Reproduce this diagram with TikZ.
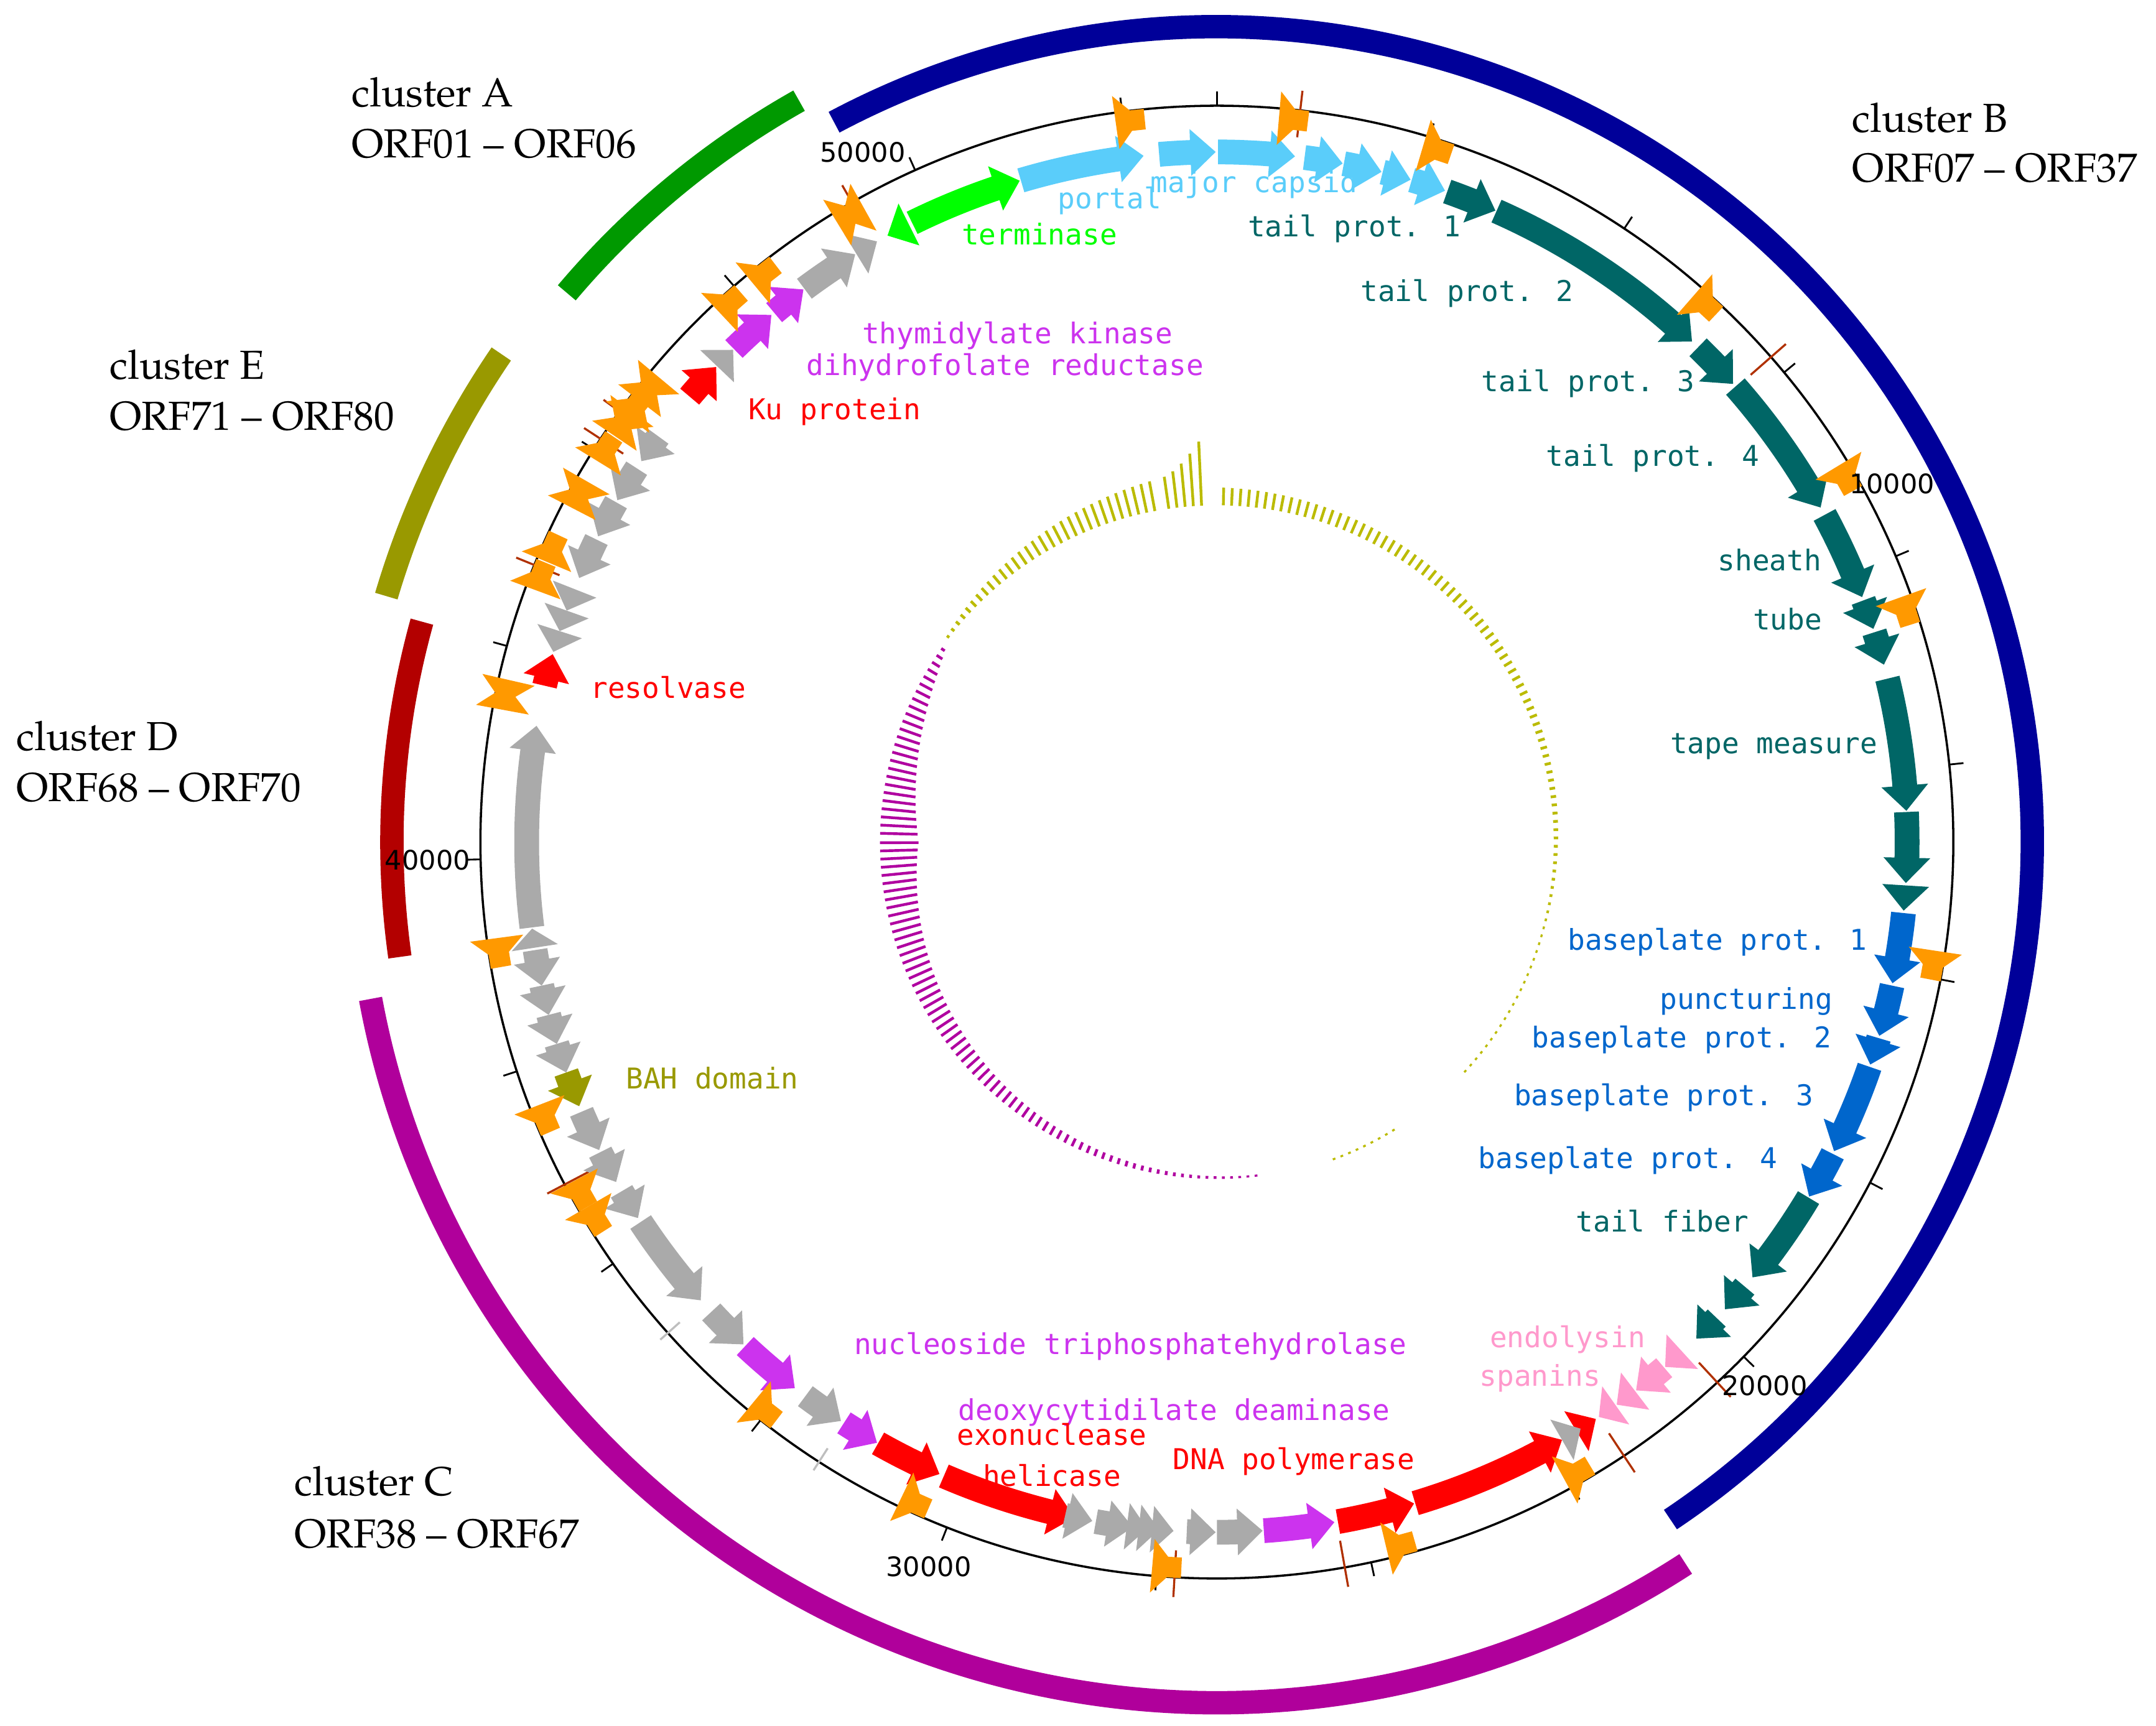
\documentclass[tikz,border=0pt]{standalone}
\usepackage{fontspec}
\newfontfamily\monof{DejaVu Sans Mono}
\newfontfamily\sansf{DejaVu Sans}
\definecolor{lblue}{RGB}{90,205,250}
\definecolor{tgreen}{RGB}{0,255,0}
\definecolor{tealc}{RGB}{0,102,102}
\definecolor{bblue}{RGB}{0,102,204}
\definecolor{pinkc}{RGB}{255,153,204}
\definecolor{redc}{RGB}{255,0,0}
\definecolor{magc}{RGB}{204,51,238}
\definecolor{grayc}{RGB}{170,170,170}
\definecolor{olivec}{RGB}{153,153,0}
\definecolor{orangec}{RGB}{255,153,0}
\definecolor{navyc}{RGB}{0,0,153}
\definecolor{agreen}{RGB}{0,153,0}
\definecolor{dredc}{RGB}{179,0,0}
\definecolor{amag}{RGB}{176,0,155}
\definecolor{holive}{RGB}{187,187,0}
\definecolor{hmag}{RGB}{176,0,160}
\definecolor{brownc}{RGB}{176,48,0}
\definecolor{lgrayc}{RGB}{190,190,190}
% gene arrow: colour, start angle (clockwise from top), tip angle
\newcommand{\gene}[3]{%
 \pgfmathsetmacro{\gnA}{90-(#2)}%
 \pgfmathsetmacro{\gnB}{90-(#3)}%
 \pgfmathsetmacro{\gnD}{2*((#3)>(#2))-1}%
 \pgfmathsetmacro{\gnL}{min(2.1,abs((#3)-(#2)))}%
 \pgfmathsetmacro{\gnH}{\gnB+\gnD*\gnL}%
 \fill[#1] (\gnA:493) arc[start angle=\gnA,end angle=\gnH,radius=493] -- (\gnH:485) -- (\gnB:502) -- (\gnH:519) -- (\gnH:511) arc[start angle=\gnH,end angle=\gnA,radius=511] -- cycle;}
% orange symbol: angle, direction (+1 clockwise, -1 counterclockwise)
\newcommand{\orn}[2]{%
 \pgfmathsetmacro{\orA}{90-(#1)+(#2)*1.2}%
 \pgfmathsetmacro{\orB}{90-(#1)}%
 \pgfmathsetmacro{\orC}{90-(#1)-(#2)*1.1}%
 \fill[orangec] (\orA:509) -- (\orA:548) -- (\orB:536) -- (\orC:536) -- (\orC:521) -- (\orB:521) -- cycle;}
\begin{document}
\begin{tikzpicture}[x=1pt,y=1pt,
  ho/.style={holive,line width=2},
  hm/.style={hmag,line width=2},
  lbl/.style={font=\fontsize{20.85}{24}\selectfont\monof,anchor=base,inner sep=0},
  tlab/.style={font=\fontsize{19.5}{22}\selectfont\sansf,anchor=base,inner sep=0},
  clab/.style={font=\fontsize{29.5}{35}\usefont{OT1}{ppl}{m}{n},anchor=base west,inner sep=0},
  clus/.style={line width=17}]
\useasboundingbox (-885,-642.5) rectangle (683,612.5);
\fill[white] (-885,-642.5) rectangle (683,612.5);

% inner skew histogram
\foreach \hT in {1.1,2.5,...,133.5}{\pgfmathsetmacro{\hL}{max(1.5,13-0.11*\hT)}\draw[ho] ({90-\hT}:245) -- ({90-\hT}:{245+\hL});}
\foreach \hT in {148.5,149.9,...,160.5}{\draw[ho] ({90-\hT}:245) -- ({90-\hT}:246.5);}
\foreach \hT in {173.3,174.7,...,270.1}{\pgfmathsetmacro{\hL}{1.5+26.5*((\hT-173)/97)^1.6}\draw[hm] ({90-\hT}:245) -- ({90-\hT}:{245-\hL});}
\foreach \hT in {271.5,272.9,...,305.5}{\pgfmathsetmacro{\hL}{1+27*((306-\hT)/36)^0.7}\draw[hm] ({90-\hT}:245) -- ({90-\hT}:{245-\hL});}
\foreach \hT in {307.4,308.8,...,350.5}{\pgfmathsetmacro{\hL}{1.5+(\hT-306)*0.47}\draw[ho] ({90-\hT}:245) -- ({90-\hT}:{245+\hL});}
\foreach \hT in {351.8,353.2,...,358.5}{\pgfmathsetmacro{\hL}{22+(\hT-350)^2*0.45}\draw[ho] ({90-\hT}:245) -- ({90-\hT}:{245+\hL});}

% genome circle and ticks
\draw[line width=1.6] (0,0) circle[radius=535.6];
\foreach \k in {0,...,21}{\pgfmathsetmacro{\tkA}{90-\k*16.791}\draw[line width=1.3] (\tkA:535.6) -- (\tkA:546);}
\foreach \a in {6.5,330.3,48.8,137.2,146.45,170.0,183.3,242.3,292.1,303.2,305.8}{\draw[brownc,line width=1.5] ({90-\a}:516) -- ({90-\a}:550);}
\foreach \a in {212.7,228.2}{\draw[lgrayc,line width=1.5] ({90-\a}:524) -- ({90-\a}:543);}

% genes
\foreach \a/\b in {343.5/353.9,355.2/359.9,0.1/6.5,7.3/10.5,10.6/13.8,13.9/16.3,16.4/19.3}{\gene{lblue}{\a}{\b}}
\foreach \a/\b in {19.5/23.8,23.9/43.5,44.2/48.4,48.7/61.0,61.7/69.2,69.5/72.0,72.3/75.1,76.3/87.4,87.5/93.4,93.6/95.7,121.0/129.1,130.1/132.6,133.6/136.0}{\gene{tealc}{\a}{\b}}
\foreach \a/\b in {95.9/101.8,102.0/106.3,106.5/108.8,109.0/116.6,116.85/120.9}{\gene{bblue}{\a}{\b}}
\foreach \a/\b in {137.6/139.5,139.6/142.6,142.7/144.6,144.7/146.4}{\gene{pinkc}{\a}{\b}}
\foreach \a/\b in {148.6/146.7,163.3/150.0,169.9/163.4,203.3/191.9,209.4/203.7,283.1/285.8,310.2/313.5}{\gene{redc}{\a}{\b}}
\foreach \a/\b in {176.1/170.2,212.7/209.5,223.1/217.7,315.6/319.8,320.1/323.2}{\gene{magc}{\a}{\b}}
\foreach \a/\b in {150.0/148.2,180.0/176.2,182.5/180.1,190.1/187.0,187.5/185.8,186.5/184.8,185.4/183.6,192.7/190.4,216.6/213.0,227.1/223.3,236.6/228.4,239.6/237.0,243.3/240.5,247.0/243.5,253.0/250.5,255.5/253.0,258.0/255.5,261.0/258.0,261.2/262.8,262.9/279.7,291.5/289.6,289.6/287.8,287.8/286.0,296.0/292.5,299.5/296.3,302.8/299.7,306.0/303.5,313.6/315.5,323.3/328.4,328.5/330.5}{\gene{grayc}{\a}{\b}}
\gene{olivec}{250.5}{247.5}
\foreach \a/\b in {333.5/331.5,333.8/343.4}{\gene{tgreen}{\a}{\b}}

% orange symbols
\foreach \a/\d in {353.2/1,6.1/1,17.7/1,42.3/1,60.0/1,71.5/1,99.8/1,150.2/-1,165.3/-1,183.9/-1,204.5/-1,218.4/-1,238.7/-1,241.0/-1,247.6/-1,261.2/-1,281.7/1,281.7/-1,291.5/1,293.9/1,298.6/1,298.6/-1,302.8/1,305.2/1,305.2/-1,307.0/1,308.6/1,308.6/-1,318.0/1,321.5/1,329.7/1,329.7/-1}{\orn{\a}{\d}}

% cluster arcs
\draw[clus,navyc] (-242:593) arc[start angle=-242,end angle=-416.2,radius=593];
\draw[clus,amag] (-57:626) arc[start angle=-57,end angle=-169.5,radius=626];
\draw[clus,dredc] (-172:600) arc[start angle=-172,end angle=-195.5,radius=600];
\draw[clus,olivec] (-196.5:630) arc[start angle=-196.5,end angle=-214.3,radius=630];
\draw[clus,agreen] (-220.2:619) arc[start angle=-220.2,end angle=-240.6,radius=619];

% tick labels
\node[tlab] (t50) at (-257.5,494.5) {50000};
\node[tlab] (t10) at (491,253.5) {10000};
\node[tlab] (t20) at (398.5,-402.5) {20000};
\node[tlab] (t30) at (-209.6,-534) {30000};
\node[tlab] (t40) at (-574,-20) {40000};

% gene labels
\node[lbl,lblue] (lportal) at (-78,460.5) {portal};
\node[lbl,lblue] (lcapsid) at (27,472.5) {major capsid};
\node[lbl,tgreen] (lterm) at (-129,434.5) {terminase};
\node[lbl,tealc] (ltp1) at (100,440.5) {tail prot. 1};
\node[lbl,tealc] (ltp2) at (182,393.5) {tail prot. 2};
\node[lbl,tealc] (ltp3) at (270,327.5) {tail prot. 3};
\node[lbl,tealc] (ltp4) at (317,273.5) {tail prot. 4};
\node[lbl,tealc] (lsheath) at (402,197.5) {sheath};
\node[lbl,tealc] (ltube) at (415,154.5) {tube};
\node[lbl,tealc] (ltape) at (405,64.5) {tape measure};
\node[lbl,bblue] (lbp1) at (364,-78.5) {baseplate prot. 1};
\node[lbl,bblue] (lpunct) at (385,-121.5) {puncturing};
\node[lbl,bblue] (lbp2) at (338,-149.5) {baseplate prot. 2};
\node[lbl,bblue] (lbp3) at (325,-191.5) {baseplate prot. 3};
\node[lbl,bblue] (lbp4) at (299,-237.5) {baseplate prot. 4};
\node[lbl,tealc] (lfiber) at (324,-283.5) {tail fiber};
\node[lbl,pinkc] (lendo) at (255,-367.5) {endolysin};
\node[lbl,pinkc] (lspan) at (235,-395.5) {spanins};
\node[lbl,magc] (lnuc) at (-63,-372.5) {nucleoside triphosphatehydrolase};
\node[lbl,magc] (ldeox) at (-31,-420.5) {deoxycytidilate deaminase};
\node[lbl,redc] (lexo) at (-120,-438.5) {exonuclease};
\node[lbl,redc] (lheli) at (-120,-468.5) {helicase};
\node[lbl,redc] (lpol) at (56,-456.5) {DNA polymerase};
\node[lbl,olivec] (lbah) at (-367,-179.5) {BAH domain};
\node[lbl,redc] (lres) at (-399,104.5) {resolvase};
\node[lbl,redc] (lku) at (-278,307.5) {Ku protein};
\node[lbl,magc] (lthy) at (-145,362.5) {thymidylate kinase};
\node[lbl,magc] (ldhf) at (-154,339.5) {dihydrofolate reductase};

% cluster labels
\node[clab] (cA1) at (-629.4,534.8) {cluster A};
\node[clab] (cA2) at (-629.4,498) {ORF01 -- ORF06};
\node[clab] (cB1) at (462,516.5) {cluster B};
\node[clab] (cB2) at (462,480) {ORF07 -- ORF37};
\node[clab] (cE1) at (-805.5,336.7) {cluster E};
\node[clab] (cE2) at (-805.5,299.5) {ORF71 -- ORF80};
\node[clab] (cD1) at (-873.2,66.6) {cluster D};
\node[clab] (cD2) at (-873.2,29.5) {ORF68 -- ORF70};
\node[clab] (cC1) at (-671,-475.5) {cluster C};
\node[clab] (cC2) at (-671,-513.2) {ORF38 -- ORF67};
\end{tikzpicture}
\end{document}
